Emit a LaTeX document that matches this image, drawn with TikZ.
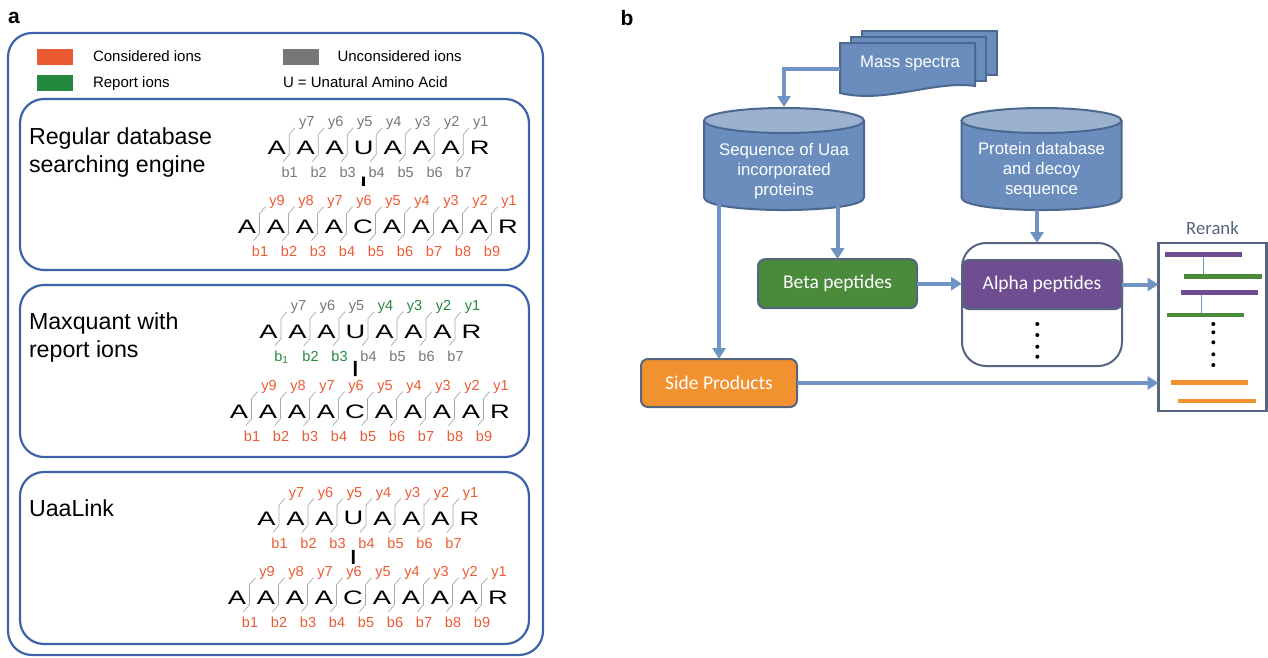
\documentclass[tikz,border=0pt]{standalone}
\usepackage{fontspec}
\setmainfont{Liberation Sans}
\newfontfamily\calibri{Carlito}
\usetikzlibrary{arrows.meta, positioning}

\definecolor{boxblue}{HTML}{3D62A8}
\definecolor{considered}{HTML}{EC5A33}
\definecolor{report}{HTML}{24883F}
\definecolor{unconsidered}{HTML}{777777}
\definecolor{cutgray}{HTML}{A8A8A8}
\definecolor{flowfill}{HTML}{6A8DBE}
\definecolor{flowdraw}{HTML}{4B6890}
\definecolor{flowtop}{HTML}{9AB1CF}
\definecolor{flowarrow}{HTML}{6F93C3}
\definecolor{betagreen}{HTML}{4A8A3B}
\definecolor{alphapurple}{HTML}{6E4E91}
\definecolor{sideorange}{HTML}{F2912F}
\definecolor{slate}{HTML}{56647F}

\begin{document}
\begin{tikzpicture}[x=1pt, y=-1pt, inner sep=0, outer sep=0,
  >={Triangle[length=11pt, width=13pt]},
  panel/.style={draw=boxblue, line width=2.2pt, rounded corners=24pt},
  heading/.style={anchor=north west, align=left, font=\fontsize{23.2}{28}\selectfont},
  legend/.style={anchor=west, text height=11pt, text depth=3pt, font=\fontsize{15}{18}\selectfont},
  swatch/.style={minimum width=36pt, minimum height=16pt},
  res/.style={font=\fontsize{19.5}{20}\selectfont},
  ion/.style={anchor=base, font=\fontsize{14.5}{15}\selectfont},
  cut/.style={draw=cutgray, line width=0.7pt},
  link/.style={line width=2.8pt},
  flow/.style={->, draw=flowarrow, line width=4pt},
  doc/.style={draw=flowdraw, fill=flowfill, line width=2pt},
  dbtext/.style={text=white, align=center, font=\fontsize{16.8}{20.3}\selectfont},
  stepbox/.style={draw=slate, line width=2pt, rounded corners=7pt, text=white,
    minimum width=159pt, minimum height=49pt, font=\calibri\fontsize{19.5}{20}\selectfont},
  pool/.style={draw=slate, line width=2pt, rounded corners=24pt, minimum width=160pt, minimum height=123pt},
  rankbox/.style={draw=slate, line width=2.5pt, minimum width=108pt, minimum height=168pt},
  bar/.style={line width=4.5pt},
  pair/.style={draw=flowarrow, line width=1pt}]

  \useasboundingbox (0,0) rectangle (1268,657);

  % panel a
  \node[font=\bfseries\fontsize{21}{21}\selectfont] (laba) at (14,18) {a};
  \draw[panel] (8,33) rectangle (543,655);

  \node[swatch, fill=considered] (conskey) at (55,57) {};
  \node[legend, right=20pt of conskey] (constext) {Considered ions};
  \node[swatch, fill=report] (repkey) at (55,83) {};
  \node[legend, right=20pt of repkey] (reptext) {Report ions};
  \node[swatch, fill=unconsidered] (unckey) at (300.5,57) {};
  \node[legend, right=19pt of unckey] (unctext) {Unconsidered ions};
  \node[legend] (uaatext) at (283,83) {U = Unatural Amino Acid};

  % regular search
  \draw[panel] (20,99) rectangle (529,270);
  \node[heading] (regular) at (29,128) {Regular database\\searching engine};
  \foreach \r [count=\i] in {A,A,A,U,A,A,A,R}
    \node[res] (s1u\i) at (247.7+\i*29,147.7) {\scalebox{1.4}[1]{\r}};
  \foreach \i in {1,...,7} {
    \pgfmathsetmacro\cx{262.2+\i*29}
    \pgfmathtruncatemacro\n{8-\i}
    \draw[cut] (\cx-8,161.7) -- (\cx-2,154.7) -- (\cx-2,134.7) -- (\cx+4,127.7);
    \node[ion, unconsidered] (s1uy\i) at (\cx+15.5,126.7) {y\n};
    \node[ion, unconsidered] (s1ub\i) at (\cx-1.5,177.7) {b\i};
  }
  \foreach \r [count=\i] in {A,A,A,A,C,A,A,A,A,R}
    \node[res] (s1l\i) at (218+\i*29,226.7) {\scalebox{1.4}[1]{\r}};
  \foreach \i in {1,...,9} {
    \pgfmathsetmacro\cx{232.5+\i*29}
    \pgfmathtruncatemacro\n{10-\i}
    \draw[cut] (\cx-8,240.7) -- (\cx-2,233.7) -- (\cx-2,213.7) -- (\cx+4,206.7);
    \node[ion, considered] (s1ly\i) at (\cx+15.5,205.7) {y\n};
    \node[ion, considered] (s1lb\i) at (\cx-1.5,256.7) {b\i};
  }
  \draw[link, shorten <=22pt, shorten >=34pt] (s1u4) -- (s1l5);

  % maxquant
  \draw[panel] (20,285) rectangle (529,457);
  \node[heading] (maxquant) at (29,313) {Maxquant with\\report ions};
  \foreach \r [count=\i] in {A,A,A,U,A,A,A,R}
    \node[res] (s2u\i) at (239.5+\i*29,331.7) {\scalebox{1.4}[1]{\r}};
  \foreach \yc/\bl/\bc [count=\i] in {unconsidered/b\textsubscript{1}/report, unconsidered/b2/report,
      unconsidered/b3/report, report/b4/unconsidered, report/b5/unconsidered,
      report/b6/unconsidered, report/b7/unconsidered} {
    \pgfmathsetmacro\cx{254+\i*29}
    \pgfmathtruncatemacro\n{8-\i}
    \draw[cut] (\cx-8,345.7) -- (\cx-2,338.7) -- (\cx-2,318.7) -- (\cx+4,311.7);
    \node[ion, \yc] (s2uy\i) at (\cx+15.5,310.7) {y\n};
    \node[ion, \bc] (s2ub\i) at (\cx-1.5,361.7) {\bl};
  }
  \foreach \r [count=\i] in {A,A,A,A,C,A,A,A,A,R}
    \node[res] (s2l\i) at (210+\i*29,411.7) {\scalebox{1.4}[1]{\r}};
  \foreach \i in {1,...,9} {
    \pgfmathsetmacro\cx{224.5+\i*29}
    \pgfmathtruncatemacro\n{10-\i}
    \draw[cut] (\cx-8,425.7) -- (\cx-2,418.7) -- (\cx-2,398.7) -- (\cx+4,391.7);
    \node[ion, considered] (s2ly\i) at (\cx+15.5,390.7) {y\n};
    \node[ion, considered] (s2lb\i) at (\cx-1.5,441.7) {b\i};
  }
  \draw[link, shorten <=22.3pt, shorten >=28.7pt] (s2u4) -- (s2l5);

  % uaalink
  \draw[panel] (20,472) rectangle (529,644);
  \node[heading] (uaalink) at (29,500) {UaaLink};
  \foreach \r [count=\i] in {A,A,A,U,A,A,A,R}
    \node[res] (s3u\i) at (237.5+\i*29,518.3) {\scalebox{1.4}[1]{\r}};
  \foreach \i in {1,...,7} {
    \pgfmathsetmacro\cx{252+\i*29}
    \pgfmathtruncatemacro\n{8-\i}
    \draw[cut] (\cx-8,532.3) -- (\cx-2,525.3) -- (\cx-2,505.3) -- (\cx+4,498.3);
    \node[ion, considered] (s3uy\i) at (\cx+15.5,497.3) {y\n};
    \node[ion, considered] (s3ub\i) at (\cx-1.5,548.3) {b\i};
  }
  \foreach \r [count=\i] in {A,A,A,A,C,A,A,A,A,R}
    \node[res] (s3l\i) at (208+\i*29,597.7) {\scalebox{1.4}[1]{\r}};
  \foreach \i in {1,...,9} {
    \pgfmathsetmacro\cx{222.5+\i*29}
    \pgfmathtruncatemacro\n{10-\i}
    \draw[cut] (\cx-8,611.7) -- (\cx-2,604.7) -- (\cx-2,584.7) -- (\cx+4,577.7);
    \node[ion, considered] (s3ly\i) at (\cx+15.5,576.7) {y\n};
    \node[ion, considered] (s3lb\i) at (\cx-1.5,627.7) {b\i};
  }
  \draw[link, shorten <=24.7pt, shorten >=27pt] (s3u4) -- (s3l5);

  % panel b
  \node[font=\bfseries\fontsize{21}{21}\selectfont] (labb) at (627,18) {b};

  % mass spectra stack
  \draw[doc] (862,31) rectangle (997,75);
  \draw[doc] (851,37) rectangle (986,81);
  \draw[doc] (840,43) -- (975,43) -- (975,86) .. controls (935,80) and (885,104) .. (840,93) -- cycle;
  \node[text=white, font=\fontsize{16.8}{20}\selectfont] (spectra) at (910,63) {Mass spectra};
  \coordinate (specout) at (840,69.3);

  % databases
  \draw[doc] (704,120.5) -- (704,197.5) .. controls (704,214.2) and (864,214.2) .. (864,197.5) -- (864,120.5);
  \draw[doc, fill=flowtop] (784,120.5) ellipse [x radius=80, y radius=12.5];
  \node[dbtext] (uaaseq) at (784,171) {Sequence of Uaa\\incorporated\\proteins};
  \coordinate (uaatop) at (784,107);
  \coordinate (uaabottom) at (784,210);

  \draw[doc] (961.5,120.5) -- (961.5,197.5) .. controls (961.5,214.2) and (1121.5,214.2) .. (1121.5,197.5) -- (1121.5,120.5);
  \draw[doc, fill=flowtop] (1041.5,120.5) ellipse [x radius=80, y radius=12.5];
  \node[dbtext] (protdb) at (1041.5,170) {Protein database\\and decoy\\sequence};
  \coordinate (protbottom) at (1037,210);

  \node[stepbox, fill=betagreen] (beta) at (837.5,283.7) {Beta peptides};
  \node[stepbox, fill=sideorange, minimum width=156pt, minimum height=48pt] (side) at (719,383) {Side Products};
  \node[pool] (alphapool) at (1042,304.5) {};
  \node[stepbox, fill=alphapurple, minimum width=160pt] (alpha) at (1042,284.5) {Alpha peptides};
  \node[rankbox] (rerank) at (1212.5,327) {};
  \node[above=8pt of rerank, text=slate, font=\calibri\fontsize{18.7}{20}\selectfont] (ranktitle) {Rerank};

  \draw[flow] (specout) -| (uaatop);
  \draw[flow, shorten <=-6pt] (side.north |- uaabottom) -- (side.north);
  \draw[flow, shorten <=-4pt] (beta.north |- uaabottom) -- (beta.north);
  \draw[flow] (protbottom) -- (protbottom |- alphapool.north);
  \draw[flow] (beta.east) -- (beta.east -| alpha.west);
  \draw[flow] (alpha.east) -- (alpha.east -| rerank.west);
  \draw[flow] (side.east) -- (side.east -| rerank.west);

  % dots below alpha peptides
  \foreach \y in {324,335,346.7,356.7}
    \fill (1037.3,\y) circle (2pt);

  % reranked pairs
  \draw[pair] (1203.3,254.3) -- (1203.3,276.7);
  \draw[pair] (1201.3,292.3) -- (1201.3,315);
  \draw[bar, alphapurple] (1165,254.3) -- (1241.7,254.3);
  \draw[bar, betagreen] (1184.3,276.7) -- (1261.7,276.7);
  \draw[bar, alphapurple] (1180.7,292.3) -- (1258.3,292.3);
  \draw[bar, betagreen] (1167.3,315) -- (1244,315);
  \foreach \y in {324,332.3,342.3,354.3,365}
    \fill (1213.3,\y) circle (2pt);
  \draw[bar, sideorange] (1170.7,382.7) -- (1247.7,382.7);
  \draw[bar, sideorange] (1178.3,401) -- (1255.7,401);
\end{tikzpicture}
\end{document}
